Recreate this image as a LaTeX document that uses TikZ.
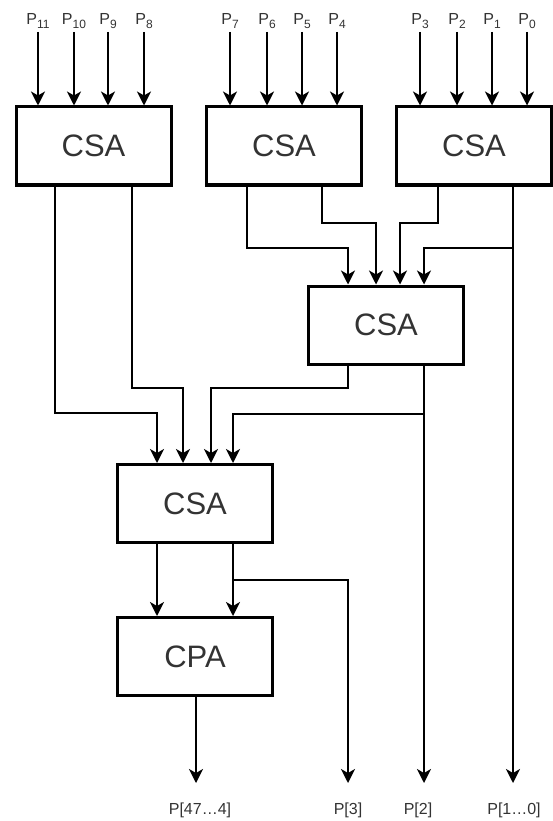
\documentclass[tikz,border=0pt]{standalone}
\usepackage{fontspec}
\setmainfont{Liberation Sans}
\usetikzlibrary{arrows.meta}
\definecolor{txt}{HTML}{333333}
\newcommand{\sbs}[1]{\raisebox{-3.5pt}{\fontsize{12}{12}\selectfont #1}}
\tikzset{
  blk/.style={draw=black, line width=3pt, minimum width=155pt, minimum height=78pt, text=txt, font=\fontsize{31}{31}\selectfont, inner sep=0pt},
  arr/.style={line width=2pt, -{Stealth[length=14pt,width=14pt,inset=4pt]}},
  lbl/.style={text=txt, font=\fontsize{16}{16}\selectfont, anchor=base, inner sep=0pt},
}
\begin{document}
\begin{tikzpicture}[x=1pt,y=-1pt]
\useasboundingbox (0,0) rectangle (553,821);
% blocks
\node[blk] (b1) at (93.5,146) {CSA};
\node[blk] (b2) at (284,146) {CSA};
\node[blk] (b3) at (474,146) {CSA};
\node[blk] (b4) at (386,325) {CSA};
\node[blk] (b5) at (195,503.5) {CSA};
\node[blk] (cpa) at (195,656.5) {CPA};
% input labels and arrows
\foreach \x/\n in {38/11,74/10,108/9,144/8}{
  \node[lbl] (p\n) at (\x,25) {P\sbs{\n}};
  \coordinate (i\n) at (\x,32);
  \draw[arr] (i\n) -- (i\n |- b1.north);
}
\foreach \x/\n in {230/7,267/6,302/5,337/4}{
  \node[lbl] (p\n) at (\x,25) {P\sbs{\n}};
  \coordinate (i\n) at (\x,32);
  \draw[arr] (i\n) -- (i\n |- b2.north);
}
\foreach \x/\n in {420/3,457/2,492/1,527/0}{
  \node[lbl] (p\n) at (\x,25) {P\sbs{\n}};
  \coordinate (i\n) at (\x,32);
  \draw[arr] (i\n) -- (i\n |- b3.north);
}
% output labels
\node[lbl] (o1) at (200,814) {P[47…4]};
\node[lbl] (o2) at (348,814) {P[3]};
\node[lbl] (o3) at (418,814) {P[2]};
\node[lbl] (o4) at (514,814) {P[1…0]};
% first-level routes into b4
\draw[arr] (b2.south -| 247,0) |- (348,248) -- (348,0 |- b4.north);
\draw[arr] (b2.south -| 322,0) |- (376,223) -- (376,0 |- b4.north);
\draw[arr] (b3.south -| 438,0) |- (400,223) -- (400,0 |- b4.north);
\draw[arr] (b3.south -| 513,0) -- (513,783);
\draw[arr] (513,248) -| (424,0 |- b4.north);
% routes into b5
\draw[arr] (b1.south -| 55,0) |- (157,413) -- (157,0 |- b5.north);
\draw[arr] (b1.south -| 132,0) |- (183,388) -- (183,0 |- b5.north);
\draw[arr] (b4.south -| 348,0) |- (211,388) -- (211,0 |- b5.north);
\draw[arr] (b4.south -| 424,0) -- (424,783);
\draw[arr] (424,414) -| (233,0 |- b5.north);
% into cpa
\draw[arr] (b5.south -| 157,0) -- (157,0 |- cpa.north);
\draw[arr] (b5.south -| 233,0) -- (233,0 |- cpa.north);
\draw[arr] (233,580) -| (348,783);
% cpa output
\draw[arr] (cpa.south -| 196,0) -- (196,783);
\end{tikzpicture}
\end{document}
